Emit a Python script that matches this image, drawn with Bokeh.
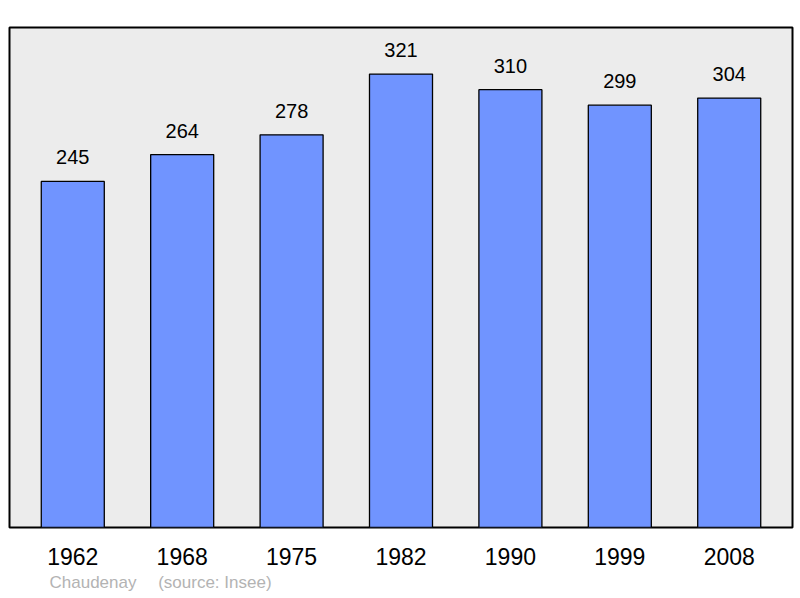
from bokeh.plotting import figure
from bokeh.models import FactorRange, Range1d, Title, ColumnDataSource
from bokeh.core.properties import value
from bokeh.embed import file_html
from bokeh.resources import INLINE

years = ["1962", "1968", "1975", "1982", "1990", "1999", "2008"]
population = [245, 264, 278, 321, 310, 299, 304]
commune = "Chaudenay"
source_note = "(source: Insee)"

src = ColumnDataSource(dict(year=years, pop=population, lab=[str(v) for v in population]))

p = figure(
    x_range=FactorRange(factors=years, range_padding=0.0224, range_padding_units="percent"),
    y_range=Range1d(0, 354),
    width=794, height=595,
    output_backend="svg", toolbar_location=None,
    min_border_left=9, min_border_right=2, min_border_top=27, min_border_bottom=4,
)
p.background_fill_color = "#ececec"
p.border_fill_color = "white"
p.outline_line_color = "black"
p.outline_line_width = 2
p.grid.visible = False
p.yaxis.visible = False

p.vbar(x="year", top="pop", width=0.576, source=src,
       fill_color="#7094ff", line_color="black", line_width=1.3)

p.text(x="year", y="pop", text="lab", source=src, y_offset=-24,
       text_align="center", text_baseline="alphabetic",
       text_font=value("Liberation Sans"), text_font_size="20px", text_color="black")

xa = p.xaxis[0]
xa.axis_line_color = None
xa.major_tick_line_color = None
xa.minor_tick_line_color = None
xa.major_label_text_font = "Liberation Sans"
xa.major_label_text_font_size = "23px"
xa.major_label_text_color = "black"
xa.major_label_standoff = 14

p.add_layout(Title(text=commune + "\u2003 " + source_note, align="left", offset=40,
                   text_font="Liberation Sans", text_font_size="17px",
                   text_font_style="normal", text_color="#b3b3b3", standoff=7), "below")

open("out.html", "w").write(file_html(p, INLINE))
